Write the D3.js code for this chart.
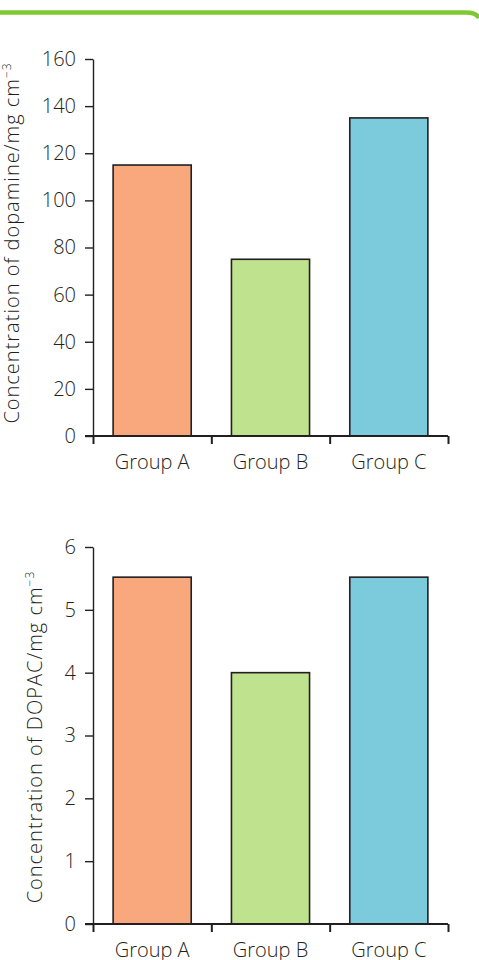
<!DOCTYPE html>
<html>
<head>
<meta charset="utf-8">
<script src="https://cdn.jsdelivr.net/npm/d3@7"></script>
<style>
  body { margin: 0; background: #fff; }
  svg { display: block; }
  text { font-family: "Open Sans", "Noto Sans", sans-serif; fill: #231f20; }
</style>
</head>
<body>
<svg id="chart"></svg>
<script>
// Groups shared by both panels
const groups = ['Group A', 'Group B', 'Group C'];
const barColors = ['#f9a87e', '#bee28e', '#7bcbdd'];

// Top panel: dopamine
const dopamine = [115, 75, 135];
const dopamineTicks = [0, 20, 40, 60, 80, 100, 120, 140, 160];

// Bottom panel: DOPAC
const dopac = [5.52, 4.0, 5.52];
const dopacTicks = [0, 1, 2, 3, 4, 5, 6];

const width = 479, height = 960;
const ink = '#231f20';
const labelFont = '20px';

const svg = d3.select('#chart')
    .attr('width', width)
    .attr('height', height);

// Green rule across the top, rounded at the right
svg.append('path')
    .attr('d', 'M0,12.5 H466 Q476,12.5 479,18')
    .attr('fill', 'none')
    .attr('stroke', '#80c832')
    .attr('stroke-width', 4.5);

const x = d3.scaleBand()
    .domain(groups)
    .range([93, 448])
    .paddingInner(0.34)
    .paddingOuter(0.17);

// Boundary ticks sit between the groups
const xEdges = d3.scaleLinear()
    .domain([0, groups.length])
    .range([93, 448]);

/**
 * Draws one bar panel
 */
function drawPanel(values, ticks, top, bottom, title, titleX, titleY) {
    const y = d3.scaleLinear()
        .domain([0, d3.max(ticks)])
        .range([bottom, top]);

    const g = svg.append('g');

    // Bars
    g.append('g')
        .selectAll('rect')
        .data(values)
        .enter().append('rect')
            .attr('x', (d, i) => x(groups[i]))
            .attr('y', d => y(d))
            .attr('width', x.bandwidth())
            .attr('height', d => y(0) - y(d))
            .attr('fill', (d, i) => barColors[i])
            .attr('stroke', ink)
            .attr('stroke-width', 1.6);

    // Y axis
    const yAxis = g.append('g')
        .attr('transform', 'translate(93,0)')
        .call(d3.axisLeft(y).tickValues(ticks).tickFormat(d => d)
            .tickSize(8).tickSizeOuter(0).tickPadding(9));
    yAxis.selectAll('line, path').attr('stroke', ink).attr('stroke-width', 1.4);
    yAxis.selectAll('text')
        .style('font-family', '"Open Sans", sans-serif')
        .style('font-weight', 300)
        .style('font-size', labelFont)
        .attr('fill', '#231f20');

    // X axis line with boundary ticks
    const xAxis = g.append('g')
        .attr('transform', 'translate(0,' + bottom + ')')
        .call(d3.axisBottom(xEdges).ticks(groups.length).tickFormat('').tickSize(8).tickSizeOuter(0));
    xAxis.select('.domain').attr('d', 'M85,0H448');
    xAxis.selectAll('line, path').attr('stroke', ink).attr('stroke-width', 2);

    // Group labels
    const labels = g.append('g')
        .attr('transform', 'translate(0,' + bottom + ')')
        .call(d3.axisBottom(x).tickSize(0).tickPadding(19));
    labels.select('.domain').remove();
    labels.selectAll('text')
        .style('font-family', '"Open Sans", sans-serif')
        .style('font-weight', 300)
        .style('font-size', labelFont)
        .attr('fill', '#231f20');

    // Axis title
    const t = g.append('text')
        .attr('transform', 'translate(' + titleX + ',' + titleY + ') rotate(-90)')
        .attr('text-anchor', 'middle')
        .style('font-weight', 300)
        .style('font-size', '20px')
        .style('letter-spacing', '1px');
    t.append('tspan').text(title);
    t.append('tspan').text('\u22123').attr('dy', -8).style('font-size', '12px');
}

drawPanel(dopamine, dopamineTicks, 59, 436, 'Concentration of dopamine/mg cm', 19, 243);
drawPanel(dopac, dopacTicks, 547, 924, 'Concentration of DOPAC/mg cm', 42, 737);
</script>
</body>
</html>
